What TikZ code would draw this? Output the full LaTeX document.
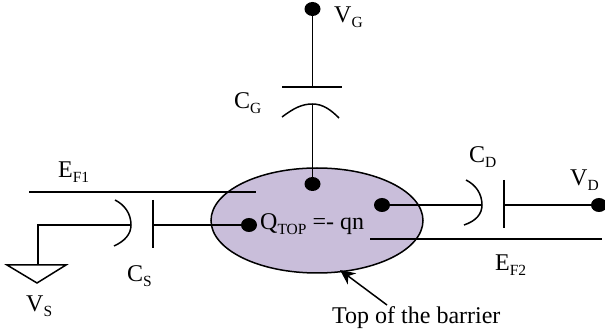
\documentclass[tikz,border=0pt]{standalone}
\usepackage{fontspec}
\setmainfont{Liberation Serif}
\usetikzlibrary{arrows.meta,shapes.geometric}
\definecolor{barrierfill}{HTML}{C9BEDA}
\newcommand{\subtxt}[1]{\raisebox{-.5ex}{\fontsize{15.5}{15.5}\selectfont #1}}

\begin{document}
\begin{tikzpicture}[
    x=1pt, y=-1pt,
    wire/.style={line width=1.5pt},
    terminal/.style={ellipse, fill=black, inner sep=0pt, minimum width=16pt, minimum height=14pt},
    txt/.style={font=\fontsize{24}{26}\selectfont, inner sep=0pt, anchor=west},
]
    \useasboundingbox (0,0) rectangle (605,336);

    % barrier
    \node[draw, ellipse, fill=barrierfill, line width=1.5pt, inner sep=0pt, minimum width=212pt, minimum height=105pt] (barrier) at (317,220.5) {};

    % terminals
    \node[terminal] (vg) at (312.5,9) {};
    \node[terminal] (top) at (312.5,184) {};
    \node[terminal] (qs) at (249,225) {};
    \node[terminal] (qd) at (382,205) {};
    \node[terminal] (vd) at (599,205) {};

    % fermi levels
    \coordinate (ef1l) at (29,192);
    \coordinate (ef1r) at (256,192);
    \coordinate (ef2l) at (370,239);
    \coordinate (ef2r) at (602,239);
    \draw[wire] (ef1l) -- (ef1r);
    \draw[wire] (ef2l) -- (ef2r);

    % gate capacitor
    \coordinate (cgp) at (312.5,87);
    \coordinate (cga) at (312.5,104);
    \draw[wire] (vg) -- (cgp);
    \draw[wire] (282,87) -- (342,87);
    \draw[wire] (282,117) .. controls (294,108) and (302,104) .. (cga) .. controls (323,104) and (331,110) .. (339,118);
    \draw[wire] (cga) -- (top);

    % source capacitor
    \coordinate (csp) at (153,225);
    \coordinate (csa) at (131,225);
    \coordinate (gnd) at (38,225);
    \coordinate (tri) at (38,265);
    \draw[wire] (qs) -- (csp);
    \draw[wire] (153,200) -- (153,248);
    \draw[wire] (115,200) .. controls (125,205) and (131,214) .. (csa) .. controls (131,234) and (125,241) .. (114,246);
    \draw[wire] (csa) -- (gnd) -- (tri);
    \draw[wire] (7,265) -- (66,265) -- (37,283) -- cycle;

    % drain capacitor
    \coordinate (cdp) at (504,205);
    \coordinate (cda) at (482,205);
    \draw[wire] (qd) -- (cda);
    \draw[wire] (504,180) -- (504,228);
    \draw[wire] (466,180) .. controls (476,185) and (482,194) .. (cda) .. controls (482,214) and (476,221) .. (464,225);
    \draw[wire] (cdp) -- (vd);

    % labels
    \node[txt] (lvg) at (334,17) {V\subtxt{G}};
    \node[txt] (lcg) at (234,103) {C\subtxt{G}};
    \node[txt] (lef1) at (58,172) {E\subtxt{F1}};
    \node[txt] (lcs) at (127,276) {C\subtxt{S}};
    \node[txt] (lvs) at (26,306) {V\subtxt{S}};
    \node[txt] (lq) at (260,224) {Q\subtxt{TOP} =- qn};
    \node[txt] (lcd) at (469,157) {C\subtxt{D}};
    \node[txt] (lvd) at (570,180) {V\subtxt{D}};
    \node[txt] (lef2) at (495,265) {E\subtxt{F2}};
    \node[txt] (ltop) at (332,318) {Top of the barrier};

    \coordinate (arrowtail) at (387,305);
    \draw[wire, -{Stealth[length=15pt,width=14pt]}] (arrowtail) -- (340,270);
\end{tikzpicture}
\end{document}
